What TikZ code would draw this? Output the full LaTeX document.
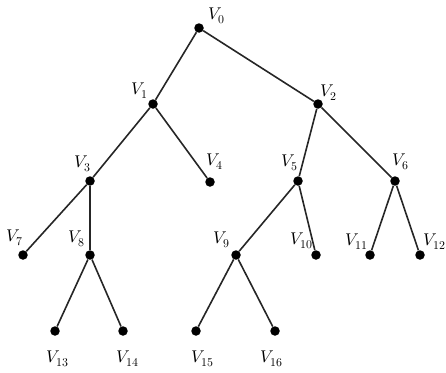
\documentclass[tikz,border=0pt]{standalone}
\usepackage{fontspec}
\setmainfont{Liberation Serif}
\usepackage{unicode-math}
\setmathfont{Latin Modern Math}
\begin{document}
\begin{tikzpicture}[x=1pt,y=-1pt,
  vtx/.style={circle,fill=black,inner sep=0pt,minimum size=9.5pt},
  lbl/.style={inner sep=0pt,font=\fontsize{17}{19}\selectfont},
  edge/.style={line width=1.6pt,draw=black!85}]
\useasboundingbox (0,0) rectangle (446,372);
\node[vtx] (v0) at (199,28) {};
\node[vtx] (v1) at (153,104) {};
\node[vtx] (v2) at (318,104) {};
\node[vtx] (v3) at (90,181) {};
\node[vtx] (v4) at (210,182) {};
\node[vtx] (v5) at (298,181) {};
\node[vtx] (v6) at (395,181) {};
\node[vtx] (v7) at (23,255) {};
\node[vtx] (v8) at (90,255) {};
\node[vtx] (v9) at (236,255) {};
\node[vtx] (v10) at (316,255) {};
\node[vtx] (v11) at (370,255) {};
\node[vtx] (v12) at (420,255) {};
\node[vtx] (v13) at (55,331) {};
\node[vtx] (v14) at (123,331) {};
\node[vtx] (v15) at (196,331) {};
\node[vtx] (v16) at (275,331) {};
\draw[edge] (v0) -- (v1);
\draw[edge] (v0) -- (v2);
\draw[edge] (v1) -- (v3);
\draw[edge] (v1) -- (v4);
\draw[edge] (v2) -- (v5);
\draw[edge] (v2) -- (v6);
\draw[edge] (v3) -- (v7);
\draw[edge] (v3) -- (v8);
\draw[edge] (v5) -- (v9);
\draw[edge] (v5) -- (v10);
\draw[edge] (v6) -- (v11);
\draw[edge] (v6) -- (v12);
\draw[edge] (v8) -- (v13);
\draw[edge] (v8) -- (v14);
\draw[edge] (v9) -- (v15);
\draw[edge] (v9) -- (v16);
\node[lbl] (l0) at (217,16) {$V_0$};
\node[lbl] (l1) at (140,91) {$V_1$};
\node[lbl] (l2) at (329,93) {$V_2$};
\node[lbl] (l3) at (83,164) {$V_3$};
\node[lbl] (l4) at (215,162) {$V_4$};
\node[lbl] (l5) at (290,163) {$V_5$};
\node[lbl] (l6) at (401,162) {$V_6$};
\node[lbl] (l7) at (15,238) {$V_7$};
\node[lbl] (l8) at (77,239) {$V_8$};
\node[lbl] (l9) at (222,240) {$V_9$};
\node[lbl] (l10) at (302,241) {$V_{10}$};
\node[lbl] (l11) at (357,242) {$V_{11}$};
\node[lbl] (l12) at (435,242) {$V_{12}$};
\node[lbl] (l13) at (58,359) {$V_{13}$};
\node[lbl] (l14) at (128,359) {$V_{14}$};
\node[lbl] (l15) at (203,359) {$V_{15}$};
\node[lbl] (l16) at (272,359) {$V_{16}$};
\end{tikzpicture}
\end{document}
